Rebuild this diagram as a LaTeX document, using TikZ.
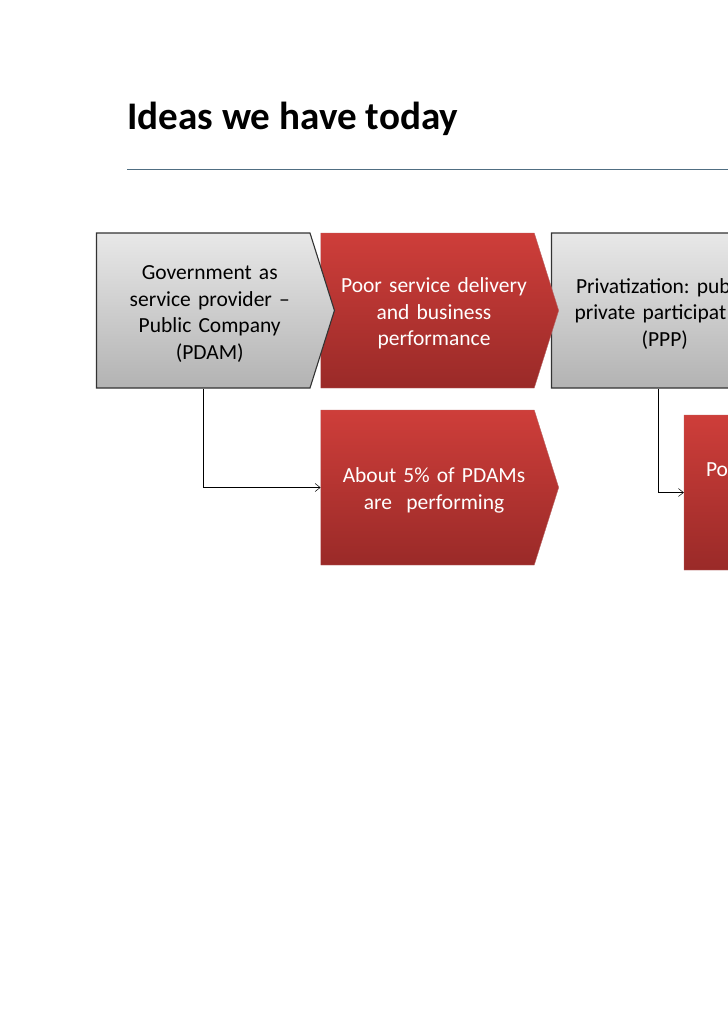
\documentclass[tikz,border=0pt]{standalone}
\usepackage{fontspec}
\setmainfont{Carlito}
\usetikzlibrary{arrows.meta}
\usetikzlibrary{shapes}
\usetikzlibrary{positioning}
\frenchspacing
\tikzset{%
  every chevron/.style={
    signal,
    signal to=east,
    signal pointer angle=145,
    minimum height=155pt,
    inner xsep=0pt,
    text width=213.5pt,
    text height=21pt,
    align=center,
    execute at begin node={\advance\leftskip by 13pt\relax},
    font=\fontsize{21.5pt}{26.5pt}\selectfont
  },
  grey chevron/.style={
    every chevron,
    draw=black!80,
    line width=1.1pt,
    top color=black!9,
    bottom color=black!30,
    text=black
  },
  red chevron/.style={
    every chevron,
    draw=red!55!black!60,
    line width=0.4pt,
    top color={rgb,255:red,206;green,62;blue,58},
    bottom color={rgb,255:red,154;green,42;blue,40},
    text=white
  },
}

\begin{document}
\begin{tikzpicture}
  \clip (0pt,0pt) rectangle (728pt,-1031pt);
  \fill[white] (0pt,0pt) rectangle (728pt,-1031pt);

  \node (title) [anchor=base west,inner sep=0pt,xshift=127pt,yshift=-129pt,
    font=\fontsize{39.1pt}{46pt}\selectfont\bfseries] {Ideas we have today};
  \coordinate (ruleleft) at (127pt,-169.5pt);
  \coordinate (ruleright) at (728pt,-169.5pt);
  \draw [color={rgb,255:red,80;green,110;blue,130},line width=1pt] (ruleleft)--(ruleright);

  % tips lie over the next box, so the order matters
  \node (ppp) [grey chevron,xshift=658.25pt,yshift=-310.5pt,align=left]
  {\hspace*{11.5pt}Privatization: pub\\\hspace*{10pt}private participat\\\hspace*{77pt}(PPP)};
  \node (poor) [red chevron,xshift=427.5pt,yshift=-310.5pt]
  {Poor service delivery\\and business\\performance};
  \node (pdam) [grey chevron,xshift=203.25pt,yshift=-310.5pt]
  {Government as\\service provider --\\Public Company\\(PDAM)};
  \node (five) [red chevron,xshift=427.5pt,yshift=-487.5pt]
  {About 5\% of PDAMs\\are\ \ performing};
  \node (post) [red chevron,xshift=790.75pt,yshift=-492.5pt,align=left]
  {\hspace*{9pt}Po\\~\\~};

  \draw   [-{Straight Barb[length=5pt,width=8pt]},line width=0.5pt] (pdam.south)|-(five.west);
  \draw   [-{Straight Barb[length=5pt,width=8pt]},line width=0.5pt] (ppp.south)|-(post.west);
\end{tikzpicture}
\end{document}
